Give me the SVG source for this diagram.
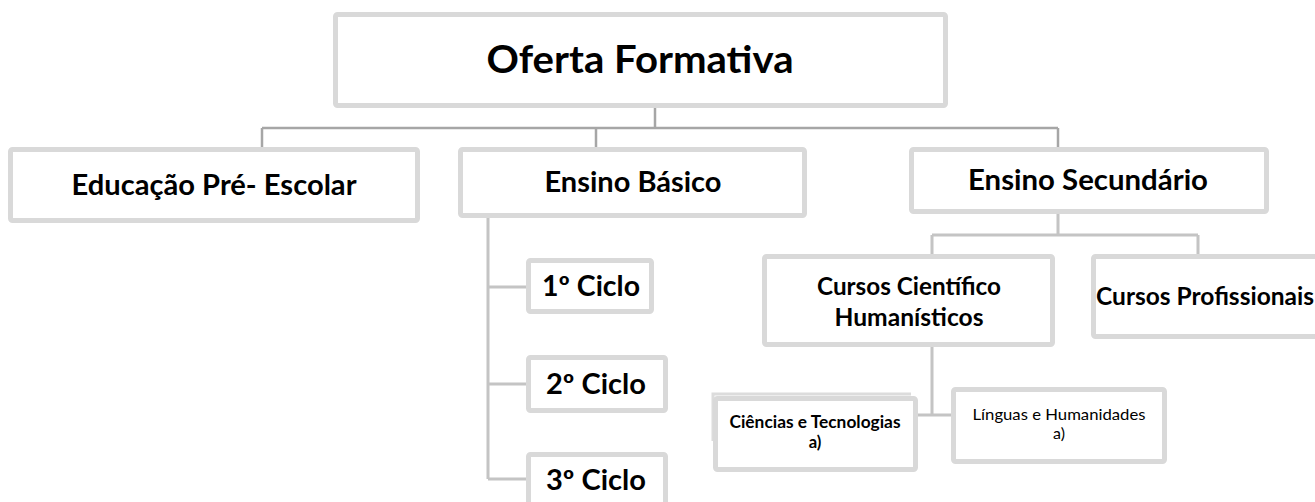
<svg xmlns="http://www.w3.org/2000/svg" width="1315" height="502" viewBox="0 0 1315 502">
<style>
.box{fill:#ffffff;stroke:#d9d9d9;stroke-width:5;}
.t{font-family:Lato,"Open Sans","Liberation Sans",sans-serif;font-weight:bold;fill:#000;text-anchor:middle;}
.r{font-family:Lato,"Open Sans","Liberation Sans",sans-serif;font-weight:normal;fill:#000;text-anchor:middle;}
.c1{fill:none;stroke:#a6a6a6;stroke-width:2.5;}
.c2{fill:none;stroke:#c4c4c4;stroke-width:3;}
</style>
<rect width="1315" height="502" fill="#ffffff"/>
<g id="connectors">
<path class="c1" d="M655 107V128M262 128H1058M262 128V148M596 128V148M1058 128V148"/>
<path class="c2" d="M488 217V479M488 287H527M488 384H527M488 479H527"/>
<path class="c2" d="M1058 213V235M932 235H1198M932 235V256M1198 235V256"/>
<path class="c2" d="M932 346V415M916 415H952"/>
</g>
<g id="oferta">
<rect class="box" x="335.5" y="14.5" width="610" height="91" rx="2"/>
<text class="t" x="640" y="73" font-size="38" textLength="307" lengthAdjust="spacingAndGlyphs">Oferta Formativa</text>
</g>
<g id="preescolar">
<rect class="box" x="10.5" y="149.5" width="407" height="71" rx="2"/>
<text class="t" x="214" y="195" font-size="28" textLength="285" lengthAdjust="spacingAndGlyphs">Educação Pré- Escolar</text>
</g>
<g id="basico">
<rect class="box" x="460.5" y="149.5" width="344" height="66" rx="2"/>
<text class="t" x="633" y="192" font-size="28" textLength="177" lengthAdjust="spacingAndGlyphs">Ensino Básico</text>
</g>
<g id="secundario">
<rect class="box" x="911.5" y="149.5" width="355" height="62" rx="2"/>
<text class="t" x="1088" y="190" font-size="28" textLength="240" lengthAdjust="spacingAndGlyphs">Ensino Secundário</text>
</g>
<g id="ciclo1">
<rect class="box" x="528.5" y="260.5" width="123" height="51" rx="2"/>
<text class="t" x="591" y="296" font-size="28" textLength="98" lengthAdjust="spacingAndGlyphs">1º Ciclo</text>
</g>
<g id="ciclo2">
<rect class="box" x="528.5" y="357.5" width="137" height="53" rx="2"/>
<text class="t" x="596" y="394" font-size="28" textLength="100" lengthAdjust="spacingAndGlyphs">2º Ciclo</text>
</g>
<g id="ciclo3">
<rect class="box" x="528.5" y="454.5" width="137" height="80" rx="2"/>
<text class="t" x="596" y="490" font-size="28" textLength="100" lengthAdjust="spacingAndGlyphs">3º Ciclo</text>
</g>
<g id="cch">
<rect class="box" x="764.5" y="256.5" width="288" height="88" rx="2"/>
<text class="t" x="909" y="295" font-size="24" textLength="184" lengthAdjust="spacingAndGlyphs">Cursos Científico</text>
<text class="t" x="909" y="326" font-size="24" textLength="149" lengthAdjust="spacingAndGlyphs">Humanísticos</text>
</g>
<g id="profissionais">
<rect class="box" x="1093.5" y="256.5" width="260" height="80" rx="2"/>
<text class="t" x="1205" y="305" font-size="24" textLength="218" lengthAdjust="spacingAndGlyphs">Cursos Profissionais</text>
</g>
<g id="ciencias">
<path d="M713 441V394H911" fill="none" stroke="#dcdcdc" stroke-width="3"/>
<rect class="box" x="715.5" y="398.5" width="200" height="71" rx="2"/>
<text class="t" x="815" y="428" font-size="16.6" textLength="171" lengthAdjust="spacingAndGlyphs">Ciências e Tecnologias</text>
<text class="t" x="815" y="448" font-size="16.6">a)</text>
</g>
<g id="linguas">
<rect class="box" x="953.5" y="389.5" width="211" height="72" rx="2"/>
<text class="r" x="1059" y="420" font-size="16" textLength="173" lengthAdjust="spacingAndGlyphs">Línguas e Humanidades</text>
<text class="r" x="1059" y="439" font-size="16">a)</text>
</g>
</svg>
